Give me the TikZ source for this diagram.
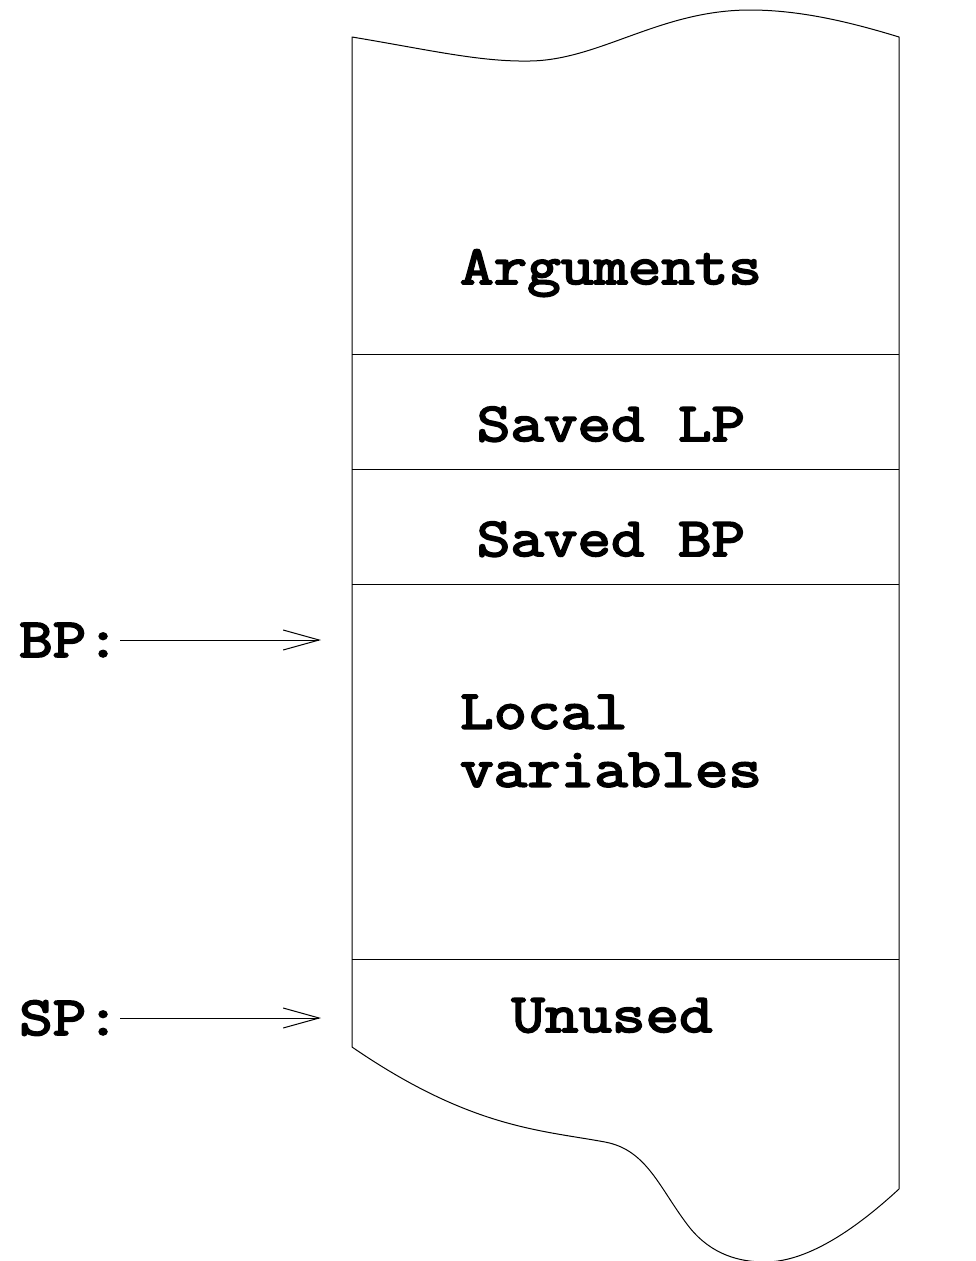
\documentclass[tikz,border=0pt]{standalone}
\usepackage{fontspec}
\newfontfamily\courbold[FakeBold=3.5,FakeStretch=1.184]{Latin Modern Mono}
\usetikzlibrary{arrows.meta}
\tikzset{
  frame/.style={line width=1pt, line join=round},
  sep/.style={line width=1pt},
  lbl/.style={font=\courbold\fontsize{55}{58}\selectfont, inner sep=0pt},
  ptr/.style={line width=1pt, -{Straight Barb[length=36pt,width=20pt,line width=1pt]}},
}
\begin{document}
\begin{tikzpicture}[x=1pt,y=-1pt]
\useasboundingbox (0,0) rectangle (976,1261);
% outline
\coordinate (tl) at (352,37);
\coordinate (tr) at (899,37);
\coordinate (bl) at (352,1047);
\coordinate (br) at (899,1189);
\draw[frame] (tl) .. controls (430,50) and (480,62) .. (530,61)
  .. controls (600,60) and (660,10) .. (750,10)
  .. controls (800,10) and (850,22) .. (tr)
  -- (br) .. controls (860,1225) and (810,1262) .. (765,1262)
  .. controls (740,1262) and (712,1255) .. (690,1228)
  .. controls (660,1190) and (648,1150) .. (605,1142)
  .. controls (540,1130) and (470,1128) .. (bl) -- cycle;
% separators
\draw[sep] (352,354) -- (899,354);
\draw[sep] (352,469) -- (899,469);
\draw[sep] (352,584) -- (899,584);
\draw[sep] (352,959) -- (899,959);
% texts
\node[lbl, anchor=base] (args) at (611,284) {Arguments};
\node[lbl, anchor=base] (slp) at (611,441) {Saved LP};
\node[lbl, anchor=base] (sbp) at (611,556) {Saved BP};
\node[lbl, align=left, anchor=center] (lv) at (611,741) {Local\\variables};
\node[lbl, anchor=base] (unused) at (612,1032) {Unused};
% pointers
\node[lbl, anchor=west] (bp) at (19,640) {BP:};
\node[lbl, anchor=west] (sp) at (19,1018) {SP:};
\coordinate (bpend) at (321,640);
\coordinate (spend) at (321,1018);
\draw[ptr] (bp.east) -- (bpend);
\draw[ptr] (sp.east) -- (spend);
\end{tikzpicture}
\end{document}
